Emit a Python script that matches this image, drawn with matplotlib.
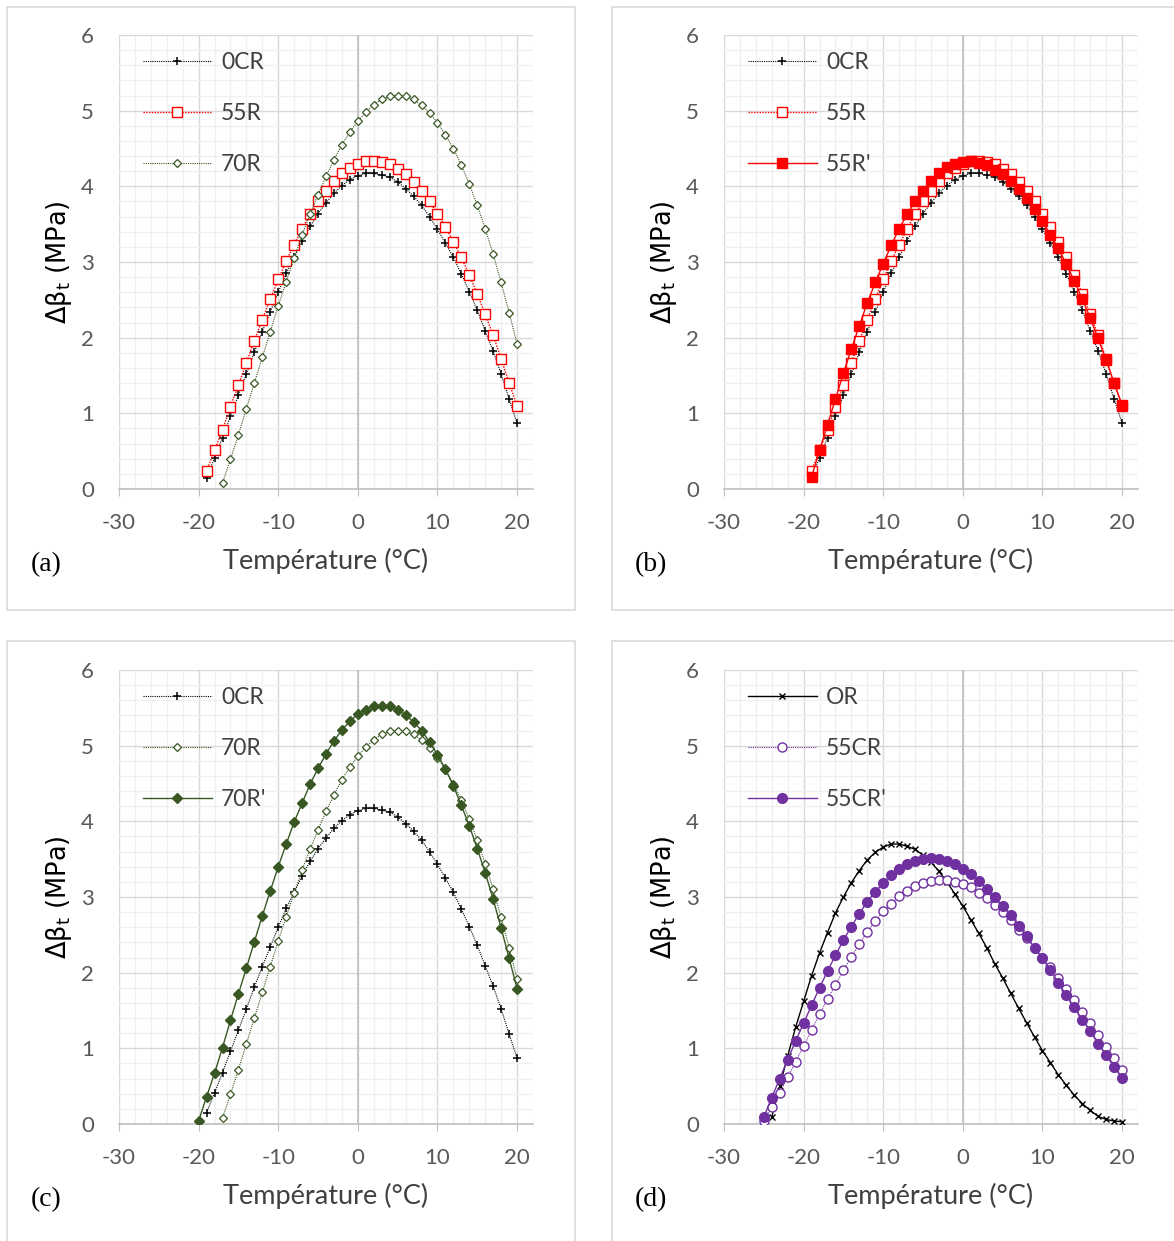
import numpy as np
import matplotlib
matplotlib.use("Agg")
import matplotlib.pyplot as plt
from matplotlib.patches import Rectangle

plt.rcParams['font.family'] = ['Lato', 'DejaVu Sans']

# --- temperatures (°C), one point per degree ---
t_0cr = np.arange(-19, 21)
t_55r = np.arange(-19, 21)
t_70r = np.arange(-17, 21)
t_70r_p = np.arange(-20, 21)
t_or = np.arange(-24, 21)
t_55cr = np.arange(-25, 21)

# --- delta beta_t (MPa) ---
b_0cr = [0.15, 0.41, 0.68, 0.96, 1.24, 1.52, 1.81, 2.08, 2.34, 2.60,
         2.85, 3.06, 3.28, 3.47, 3.64, 3.78, 3.91, 4.01, 4.09, 4.14,
         4.17, 4.17, 4.15, 4.12, 4.06, 3.97, 3.87, 3.75, 3.60, 3.43,
         3.25, 3.06, 2.84, 2.61, 2.36, 2.09, 1.82, 1.52, 1.19, 0.87]
b_55r = [0.24, 0.51, 0.78, 1.09, 1.37, 1.67, 1.96, 2.24, 2.51, 2.77,
         3.01, 3.23, 3.44, 3.63, 3.80, 3.94, 4.07, 4.17, 4.24, 4.30,
         4.33, 4.33, 4.32, 4.29, 4.23, 4.16, 4.06, 3.94, 3.80, 3.64,
         3.46, 3.27, 3.06, 2.83, 2.58, 2.31, 2.03, 1.72, 1.40, 1.10]
b_55r_p = [0.16, 0.51, 0.85, 1.19, 1.53, 1.85, 2.16, 2.46, 2.73, 2.98,
           3.22, 3.44, 3.63, 3.80, 3.94, 4.07, 4.17, 4.26, 4.30, 4.32,
           4.33, 4.31, 4.28, 4.22, 4.16, 4.07, 3.96, 3.84, 3.70, 3.54,
           3.36, 3.18, 2.97, 2.75, 2.51, 2.26, 1.99, 1.70, 1.40, 1.11]
b_70r = [0.08, 0.39, 0.72, 1.06, 1.40, 1.74, 2.08, 2.42, 2.74, 3.05,
         3.36, 3.63, 3.89, 4.13, 4.35, 4.55, 4.72, 4.86, 4.98, 5.08,
         5.15, 5.19, 5.20, 5.19, 5.15, 5.07, 4.97, 4.84, 4.68, 4.50,
         4.28, 4.03, 3.75, 3.44, 3.10, 2.73, 2.33, 1.92]
b_70r_p = [0.04, 0.36, 0.67, 1.01, 1.37, 1.72, 2.06, 2.41, 2.75, 3.08,
           3.40, 3.70, 3.99, 4.24, 4.49, 4.70, 4.89, 5.06, 5.21, 5.32,
           5.42, 5.47, 5.52, 5.53, 5.52, 5.47, 5.41, 5.31, 5.20, 5.05,
           4.88, 4.69, 4.47, 4.21, 3.94, 3.64, 3.32, 2.97, 2.59, 2.19, 1.79]
b_or = [0.09, 0.50, 0.90, 1.28, 1.62, 1.96, 2.26, 2.53, 2.79, 3.00,
        3.19, 3.35, 3.49, 3.59, 3.66, 3.70, 3.70, 3.67, 3.63, 3.55,
        3.46, 3.34, 3.20, 3.04, 2.88, 2.70, 2.52, 2.33, 2.12, 1.93,
        1.73, 1.53, 1.34, 1.15, 0.97, 0.81, 0.65, 0.51, 0.38, 0.27,
        0.18, 0.10, 0.06, 0.04, 0.03]
b_55cr = [0.04, 0.23, 0.41, 0.62, 0.82, 1.03, 1.24, 1.45, 1.65, 1.84,
          2.03, 2.21, 2.38, 2.54, 2.68, 2.81, 2.91, 3.01, 3.08, 3.15,
          3.19, 3.21, 3.22, 3.22, 3.20, 3.17, 3.13, 3.05, 2.99, 2.90,
          2.80, 2.69, 2.57, 2.46, 2.33, 2.20, 2.07, 1.93, 1.79, 1.64,
          1.48, 1.33, 1.17, 1.02, 0.87, 0.72]
b_55cr_p = [0.09, 0.35, 0.60, 0.85, 1.10, 1.33, 1.57, 1.80, 2.02, 2.23,
            2.43, 2.61, 2.78, 2.94, 3.07, 3.18, 3.29, 3.37, 3.43, 3.47,
            3.50, 3.51, 3.50, 3.47, 3.43, 3.37, 3.30, 3.21, 3.11, 3.00,
            2.88, 2.76, 2.62, 2.48, 2.33, 2.19, 2.03, 1.87, 1.70, 1.54,
            1.38, 1.23, 1.06, 0.91, 0.75, 0.61]

RED = '#FF0000'
GREEN = '#385723'
PURPLE = '#7030A0'

# series styles
S_0CR = dict(color='black', lw=0.8, ls=(0, (1, 1)), marker='+', ms=6, mew=1.1)
S_55R = dict(color=RED, lw=1.0, ls=(0, (1, 1)), marker='s', ms=6.5, mfc='white', mew=1.0)
S_55RP = dict(color=RED, lw=1.0, ls='-', marker='s', ms=7, mfc=RED, mew=1.0)
S_70R = dict(color=GREEN, lw=0.8, ls=(0, (1, 1)), marker='D', ms=4.2, mfc='white', mew=0.9)
S_70RP = dict(color=GREEN, lw=1.0, ls='-', marker='D', ms=5.5, mfc=GREEN, mew=1.0)
S_OR = dict(color='black', lw=1.0, ls='-', marker='x', ms=4, mew=1.0)
S_55CR = dict(color=PURPLE, lw=0.8, ls=(0, (1, 1)), marker='o', ms=6.5, mfc='white', mew=1.0)
S_55CRP = dict(color=PURPLE, lw=1.0, ls='-', marker='o', ms=7, mfc=PURPLE, mew=1.0)

W, H = 1174, 1241
fig = plt.figure(figsize=(W / 100, H / 100), dpi=100)


def fx(px):
    return px / W


def fy(py):
    return 1 - py / H


# panel frames
for x0, y0, x1, y1 in [(7, 7, 575, 610), (612, 7, 1190, 610),
                       (7, 641, 575, 1250), (612, 641, 1190, 1250)]:
    fig.patches.append(Rectangle((fx(x0), fy(y1)), fx(x1 - x0), (y1 - y0) / H,
                                 transform=fig.transFigure, fill=False,
                                 ec='#D9D9D9', lw=1.2))


def make_ax(left_px, top_px, letter, series):
    ax = fig.add_axes([fx(left_px), fy(top_px + 454), fx(414), 454 / H])
    ax.set_xlim(-30, 22)
    ax.set_ylim(0, 6)
    ax.set_xticks([-30, -20, -10, 0, 10, 20])
    ax.set_yticks(range(7))
    ax.set_xticks(np.arange(-30, 23, 2), minor=True)
    ax.set_yticks(np.arange(0, 6.01, 0.2), minor=True)
    ax.grid(True, which='minor', color='#F0F0F0', lw=1.0)
    ax.grid(True, which='major', color='#D9D9D9', lw=1.0)
    ax.set_axisbelow(True)
    ax.axvline(0, color='#BFBFBF', lw=1.2, zorder=1)
    for s in ['left', 'right', 'top']:
        ax.spines[s].set_visible(False)
    ax.spines['bottom'].set_color('#BFBFBF')
    ax.spines['bottom'].set_linewidth(1.2)
    ax.tick_params(axis='x', which='major', length=5, color='#BFBFBF',
                   labelsize=16, labelcolor='#595959', pad=12)
    ax.tick_params(axis='y', which='major', length=0, labelsize=16,
                   labelcolor='#595959', pad=18)
    ax.tick_params(which='minor', length=0)
    ax.set_xticklabels(['-30', '-20', '-10', '0', '10', '20'])

    for t, b, label, st in series:
        ax.plot(t, b, label=label, zorder=3, **st)

    ax.set_ylabel('Δβ$_\\mathrm{t}$ (MPa)', fontsize=18.5, color='black',
                  family=['DejaVu Sans'])
    ax.yaxis.set_label_coords(-45 / 414, 0.5)
    ax.set_xlabel('Température (°C)', fontsize=19.5, color='#404040')
    ax.xaxis.set_label_coords(0.5, -72 / 454)
    ax.xaxis.label.set_va('center')

    leg = ax.legend(loc='upper left', bbox_to_anchor=(24 / 414, 1 - 17 / 454),
                    frameon=False, fontsize=16.5, handlelength=3.0,
                    handletextpad=0.4, labelspacing=1.3, borderpad=0,
                    borderaxespad=0)
    for txt in leg.get_texts():
        txt.set_color('#404040')

    fig.text(fx(left_px - 73), fy(top_px + 530), letter, fontsize=20,
             family='Liberation Serif', color='black', ha='center', va='center')
    return ax


make_ax(119, 35, '(a)', [
    (t_0cr, b_0cr, '0CR', S_0CR),
    (t_55r, b_55r, '55R', S_55R),
    (t_70r, b_70r, '70R', S_70R),
])
make_ax(724, 35, '(b)', [
    (t_0cr, b_0cr, '0CR', S_0CR),
    (t_55r, b_55r, '55R', S_55R),
    (t_55r, b_55r_p, "55R'", S_55RP),
])
make_ax(119, 670, '(c)', [
    (t_0cr, b_0cr, '0CR', S_0CR),
    (t_70r, b_70r, '70R', S_70R),
    (t_70r_p, b_70r_p, "70R'", S_70RP),
])
make_ax(724, 670, '(d)', [
    (t_or, b_or, 'OR', S_OR),
    (t_55cr, b_55cr, '55CR', S_55CR),
    (t_55cr, b_55cr_p, "55CR'", S_55CRP),
])

fig.savefig('out.png', dpi=100, facecolor='white')
